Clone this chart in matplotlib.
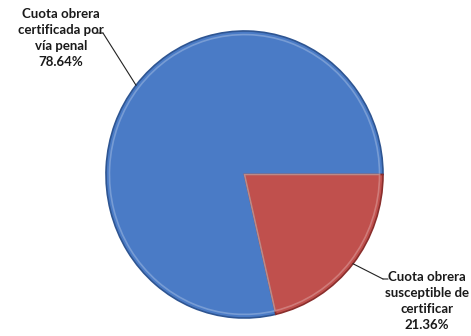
import numpy as np
import matplotlib
matplotlib.use("Agg")
from matplotlib import pyplot as plt

labels = ["Cuota obrera\ncertificada por\nvía penal", "Cuota obrera\nsusceptible de\ncertificar"]
shares = [78.64, 21.36]
colors = ["#4A7BC6", "#C0504D"]
edge_colors = ["#2E5592", "#8A2E2C"]

W, H = 471, 336
fig = plt.figure(figsize=(W / 100, H / 100), dpi=100)
# pie box in pixels: x 106..383, y 31..318 (top-down)
ax = fig.add_axes([106 / W, (H - 318) / H, 277 / W, 287 / H])
ax.axis("off")

wedges, _ = ax.pie(shares, colors=colors, startangle=0, counterclock=True,
                   wedgeprops=dict(linewidth=1.2), radius=1.0)
for w, ec in zip(wedges, edge_colors):
    w.set_edgecolor(ec)
# light bevel rim
ax.pie(shares, colors=["none", "none"], startangle=0, counterclock=True, radius=0.975,
       wedgeprops=dict(linewidth=1.2, edgecolor="white", alpha=0.25))
ax.set_xlim(-1, 1)
ax.set_ylim(-1, 1)
ax.set_aspect("auto")

# label centres (pixels, top-down), text-side end and elbow of leader
text_pos = [(61, 38), (427, 301)]
elbows = [((97, 33), (103, 33)), ((388, 279), (383, 279))]

start = 0.0
total = sum(shares)
for lab, val, (tx, ty), (p_end, p_elbow) in zip(labels, shares, text_pos, elbows):
    mid = np.deg2rad(start + 360 * val / total / 2)
    start += 360 * val / total
    anchor = (np.cos(mid), np.sin(mid))
    fig.text(tx / W, 1 - ty / H, f"{lab}\n{val:.2f}%", ha="center", va="center",
             fontsize=9.5, fontweight="bold", family="Lato", color="#1a1a1a",
             linespacing=1.42)
    ax.annotate("", xy=anchor, xycoords="data",
                xytext=(p_elbow[0], H - p_elbow[1]), textcoords="figure pixels",
                arrowprops=dict(arrowstyle="-", color="#222222", lw=0.8,
                                shrinkA=0, shrinkB=0))
    ax.annotate("", xy=(p_elbow[0], H - p_elbow[1]), xycoords="figure pixels",
                xytext=(p_end[0], H - p_end[1]), textcoords="figure pixels",
                arrowprops=dict(arrowstyle="-", color="#222222", lw=0.8,
                                shrinkA=0, shrinkB=0))

fig.savefig("out.png", dpi=100)
